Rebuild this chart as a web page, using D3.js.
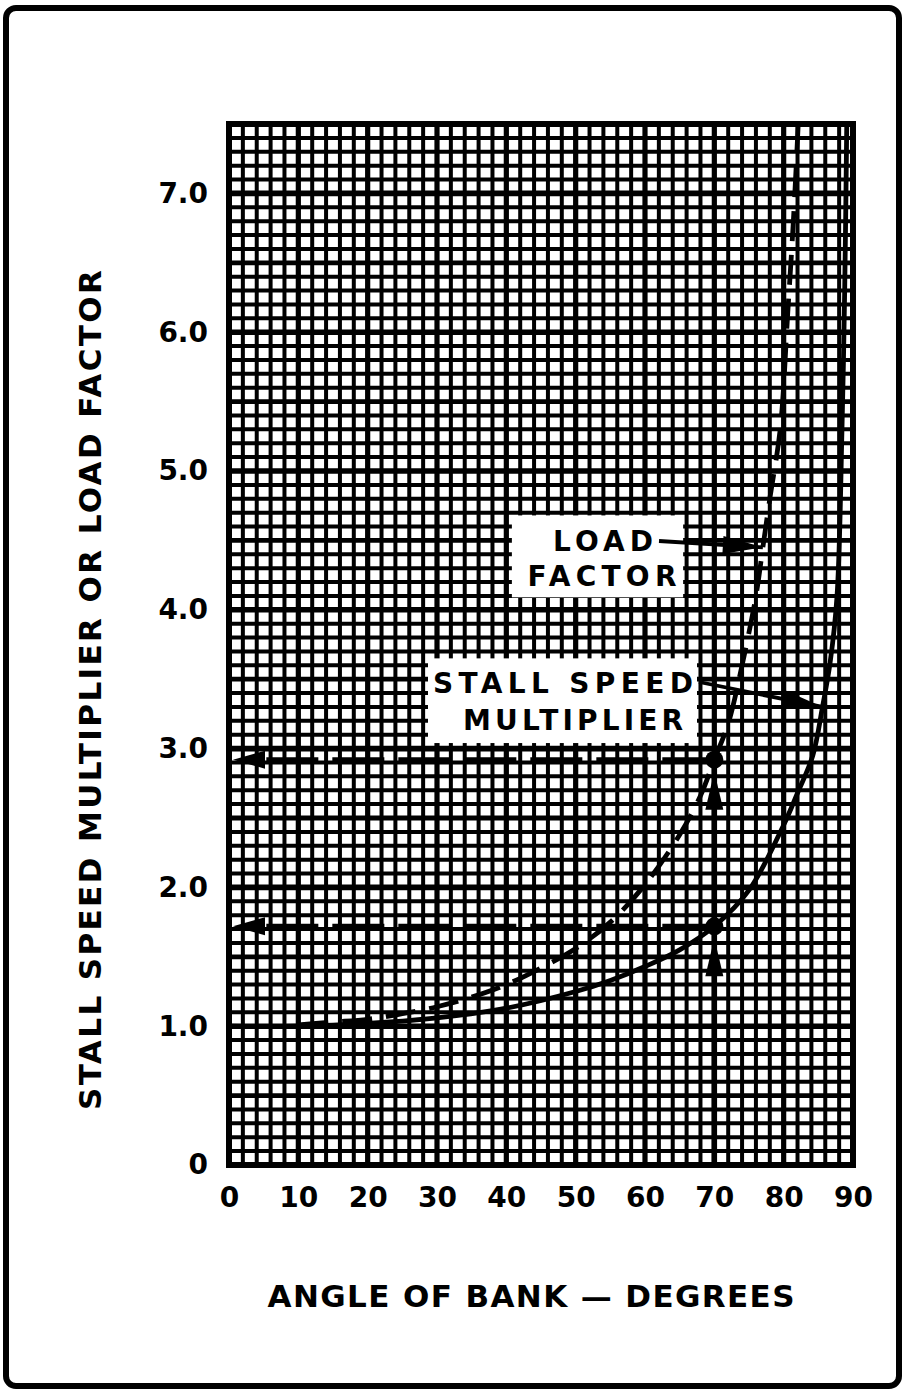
<!DOCTYPE html>
<html>
<head>
<meta charset="utf-8">
<script src="https://cdn.jsdelivr.net/npm/d3@7"></script>
<style>
  html, body { margin: 0; padding: 0; background: #fff; }
  svg text { font-family: "DejaVu Sans", sans-serif; font-weight: bold; fill: #000; }
</style>
</head>
<body>
<svg id="chart" width="906" height="1393"></svg>
<script>
// values
const angleTicks = [0, 10, 20, 30, 40, 50, 60, 70, 80, 90];
const factorTicks = [0, 1, 2, 3, 4, 5, 6, 7];

// load factor (dashed)
const loadAngle = [10, 15, 20, 25, 30, 35, 40, 45, 50, 55, 60, 65, 68, 70, 72, 74, 76, 77, 78, 79.5, 80.6, 81.4, 82.1];
const loadValue = [1.01, 1.03, 1.05, 1.09, 1.14, 1.21, 1.3, 1.42, 1.56, 1.75, 2.02, 2.38, 2.66, 2.92, 3.18, 3.6, 4.1, 4.45, 4.8, 5.3, 6.15, 6.8, 7.5];

// stall speed multiplier (solid)
const stallAngle = [0, 10, 20, 30, 40, 50, 55, 60, 65, 70, 75, 80, 82, 84.2, 85.6, 86.7, 87.7, 88.4, 88.8, 89.1];
const stallValue = [1.0, 1.0, 1.02, 1.06, 1.13, 1.25, 1.33, 1.43, 1.55, 1.72, 1.98, 2.45, 2.68, 2.95, 3.3, 3.62, 4.1, 5.28, 6.3, 7.5];

// worked example at 70 degrees
const readAngle = 70;
const readLoad = 2.92;
const readStall = 1.72;

const svg = d3.select("#chart");
const x = d3.scaleLinear().domain([0, 90]).range([229, 853]);
const y = d3.scaleLinear().domain([0, 7.5]).range([1165, 124]);

// outer frame
svg.append("rect")
  .attr("x", 6).attr("y", 8).attr("width", 893).attr("height", 1378)
  .attr("rx", 10)
  .attr("fill", "none").attr("stroke", "#000").attr("stroke-width", 6);

// graph paper
const grid = svg.append("g");
const vLines = d3.range(0, 91, 2);
const hLines = d3.range(0, 76, 1).map(d => d / 10);
grid.selectAll(".v").data(vLines).join("line")
  .attr("x1", d => x(d)).attr("x2", d => x(d))
  .attr("y1", y(7.5)).attr("y2", y(0))
  .attr("stroke", "#000")
  .attr("stroke-width", d => d % 10 === 0 ? 5.2 : 4);
grid.selectAll(".h").data(hLines).join("line")
  .attr("y1", d => y(d)).attr("y2", d => y(d))
  .attr("x1", x(0)).attr("x2", x(90))
  .attr("stroke", "#000")
  .attr("stroke-width", d => {
    const t = Math.round(d * 10);
    return t % 10 === 0 ? 5.6 : (t % 5 === 0 ? 4.8 : 4);
  });
grid.append("rect")
  .attr("x", x(0)).attr("y", y(7.5))
  .attr("width", x(90) - x(0)).attr("height", y(0) - y(7.5))
  .attr("fill", "none").attr("stroke", "#000").attr("stroke-width", 6);

// axes
const yAxis = d3.axisLeft(y).tickValues(factorTicks).tickSize(0).tickPadding(21)
  .tickFormat(d => d === 0 ? "0" : d.toFixed(1));
const gy = svg.append("g").attr("transform", `translate(${x(0)},0)`).call(yAxis);
gy.select(".domain").remove();
gy.selectAll("text").style("font-size", "28px").attr("font-family", "DejaVu Sans").attr("font-weight", "bold");

const xAxis = d3.axisBottom(x).tickValues(angleTicks).tickSize(0).tickPadding(22);
const gx = svg.append("g").attr("transform", `translate(0,${y(0)})`).call(xAxis);
gx.select(".domain").remove();
gx.selectAll("text").style("font-size", "28px").attr("font-family", "DejaVu Sans").attr("font-weight", "bold");

// axis titles
svg.append("text")
  .attr("transform", "translate(101,690) rotate(-90)")
  .attr("text-anchor", "middle")
  .attr("textLength", 840).attr("lengthAdjust", "spacing")
  .style("font-size", "31px")
  .text("STALL SPEED MULTIPLIER OR LOAD FACTOR");
svg.append("text")
  .attr("x", 531).attr("y", 1307)
  .attr("text-anchor", "middle")
  .attr("textLength", 527).attr("lengthAdjust", "spacing")
  .style("font-size", "31px")
  .text("ANGLE OF BANK \u2014 DEGREES");

// curves
svg.append("clipPath").attr("id", "plot")
  .append("rect").attr("x", x(0)).attr("y", y(7.5))
  .attr("width", x(90) - x(0)).attr("height", y(0) - y(7.5));
const line = d3.line().x(d => x(d[0])).y(d => y(d[1])).curve(d3.curveCatmullRom.alpha(0.5));
const curves = svg.append("g").attr("clip-path", "url(#plot)");
curves.append("path")
  .datum(d3.zip(stallAngle, stallValue))
  .attr("d", line)
  .attr("fill", "none").attr("stroke", "#000").attr("stroke-width", 4.8);
curves.append("path")
  .datum(d3.zip(loadAngle, loadValue))
  .attr("d", line)
  .attr("fill", "none").attr("stroke", "#000").attr("stroke-width", 4.8)
  .attr("stroke-dasharray", "30,14");

// read-off lines at 70 degrees
const ann = svg.append("g");
function arrowHead(tx, ty, dx, dy, len, half) {
  const l = Math.hypot(dx, dy), ux = dx / l, uy = dy / l;
  const bx = tx - ux * len, by = ty - uy * len;
  return `M${tx},${ty}L${bx - uy * half},${by + ux * half}L${bx + uy * half},${by - ux * half}Z`;
}
ann.append("line")
  .attr("x1", x(readAngle)).attr("x2", x(readAngle))
  .attr("y1", y(0)).attr("y2", y(readLoad))
  .attr("stroke", "#000").attr("stroke-width", 5.5);
[readLoad, readStall].forEach(v => {
  ann.append("line")
    .attr("x1", x(readAngle)).attr("x2", x(0) + 20)
    .attr("y1", y(v)).attr("y2", y(v))
    .attr("stroke", "#000").attr("stroke-width", 5)
    .attr("stroke-dasharray", "52,14");
  ann.append("path").attr("d", arrowHead(x(0) + 4, y(v), -1, 0, 32, 9));
  ann.append("path").attr("d", arrowHead(x(readAngle), y(v) + 12, 0, -1, 38, 9));
  ann.append("circle").attr("cx", x(readAngle)).attr("cy", y(v)).attr("r", 9);
});

// labels
const labels = [
  { lines: ["LOAD", "FACTOR"], widths: [100, 149], box: [40.8, 65.5, 4.68, 4.09],
    cx: [603, 602], base: [551, 586], from: [659, 541], tip: [77, 4.45] },
  { lines: ["STALL SPEED", "MULTIPLIER"], widths: [260, 220], box: [28.7, 67.5, 3.65, 3.04],
    cx: [563, 573], base: [693, 730], from: [699, 682], tip: [85.6, 3.3] }
];
labels.forEach(lb => {
  ann.append("rect")
    .attr("x", x(lb.box[0])).attr("y", y(lb.box[2]))
    .attr("width", x(lb.box[1]) - x(lb.box[0]))
    .attr("height", y(lb.box[3]) - y(lb.box[2]))
    .attr("fill", "#fff");
  lb.lines.forEach((t, i) => {
    ann.append("text")
      .attr("x", lb.cx[i]).attr("y", lb.base[i])
      .attr("text-anchor", "middle")
      .attr("textLength", lb.widths[i]).attr("lengthAdjust", "spacing")
      .style("font-size", "28px")
      .text(t);
  });
  const tx = x(lb.tip[0]), ty = y(lb.tip[1]);
  ann.append("line")
    .attr("x1", lb.from[0]).attr("y1", lb.from[1])
    .attr("x2", tx).attr("y2", ty)
    .attr("stroke", "#000").attr("stroke-width", 3.8);
  ann.append("path").attr("d", arrowHead(tx, ty, tx - lb.from[0], ty - lb.from[1], 40, 9));
});
</script>
</body>
</html>
